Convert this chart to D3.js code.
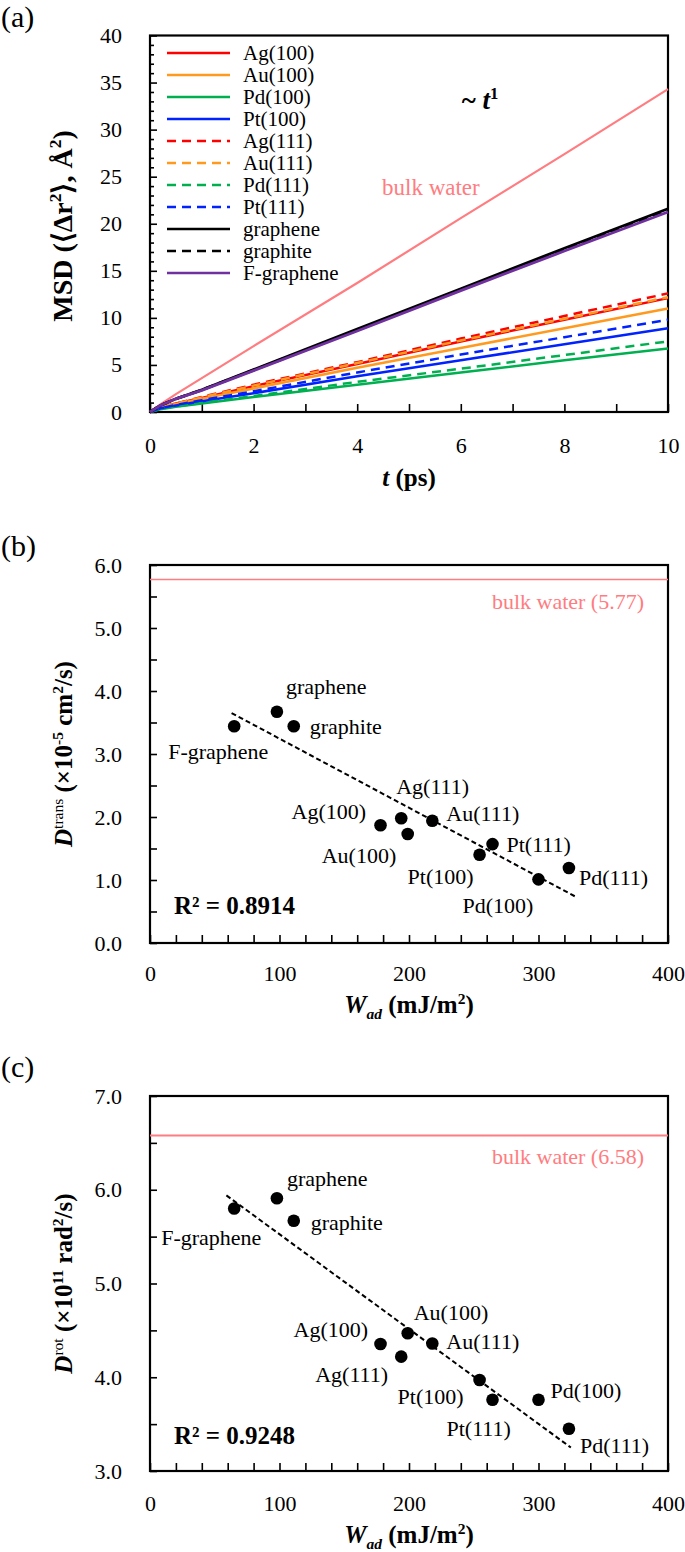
<!DOCTYPE html>
<html>
<head>
<meta charset="utf-8">
<script src="https://cdn.jsdelivr.net/npm/d3@7"></script>
<style>
body{margin:0;background:#fff;}
svg{display:block;}
text{font-family:"Liberation Serif","Times New Roman",serif;fill:#000;}
</style>
</head>
<body>
<div id="chart"></div>
<script>
var width = 685;
var height = 1552;

// (a) MSD vs t
var tPs = [0, 0.2, 0.5, 1, 2, 4, 6, 8, 10];
var msdBulk      = [0, 0.8, 1.9, 3.6, 7.0, 13.7, 20.6, 27.4, 34.3];
var msdAg100     = [0, 0.5, 0.9, 1.5, 2.75, 5.1, 7.5, 9.8, 12.1];
var msdAu100     = [0, 0.45, 0.85, 1.4, 2.5, 4.7, 6.8, 8.9, 11.0];
var msdPd100     = [0, 0.3, 0.55, 0.9, 1.6, 2.9, 4.2, 5.5, 6.75];
var msdPt100     = [0, 0.4, 0.7, 1.15, 2.0, 3.8, 5.5, 7.2, 8.9];
var msdAg111     = [0, 0.5, 0.9, 1.6, 2.9, 5.3, 7.8, 10.2, 12.6];
var msdAu111     = [0, 0.5, 0.9, 1.55, 2.8, 5.2, 7.6, 9.9, 12.2];
var msdPd111     = [0, 0.35, 0.6, 0.95, 1.7, 3.2, 4.6, 6.05, 7.5];
var msdPt111     = [0, 0.4, 0.75, 1.25, 2.2, 4.2, 6.1, 7.95, 9.8];
var msdGraphene  = [0, 0.7, 1.4, 2.35, 4.5, 8.8, 13.1, 17.4, 21.6];
var msdGraphite  = [0, 0.7, 1.4, 2.35, 4.45, 8.7, 13.0, 17.3, 21.5];
var msdFgraphene = [0, 0.7, 1.4, 2.3, 4.4, 8.6, 12.9, 17.1, 21.25];

var msdNames = ["Ag(100)", "Au(100)", "Pd(100)", "Pt(100)", "Ag(111)", "Au(111)",
                "Pd(111)", "Pt(111)", "graphene", "graphite", "F-graphene"];
var msdData = [msdAg100, msdAu100, msdPd100, msdPt100, msdAg111, msdAu111,
               msdPd111, msdPt111, msdGraphene, msdGraphite, msdFgraphene];
var msdColors = ["#ff0000", "#ff9a1f", "#00b050", "#0022ff", "#ff0000", "#ff9a1f",
                 "#00b050", "#0022ff", "#000000", "#000000", "#7030a0"];
var msdDashed = [false, false, false, false, true, true, true, true, false, true, false];

// (b),(c) diffusion coefficients vs adhesion work
var surfaces = ["F-graphene", "graphene", "graphite", "Ag(100)", "Ag(111)", "Au(100)",
                "Au(111)", "Pt(100)", "Pt(111)", "Pd(100)", "Pd(111)"];
var wad    = [65, 98, 111, 178, 194, 199, 218, 254.5, 264.5, 300, 323.5];
var dTrans = [3.44, 3.67, 3.44, 1.87, 1.98, 1.73, 1.94, 1.40, 1.57, 1.01, 1.19];
var dRot   = [5.80, 5.91, 5.67, 4.355, 4.22, 4.47, 4.36, 3.97, 3.76, 3.76, 3.45];
var bulkTrans = 5.77;
var bulkRot = 6.58;
var fitTransX = [63, 330], fitTransY = [3.65, 0.72];
var fitRotX = [59, 325], fitRotY = [5.94, 3.25];
var r2Trans = "0.8914", r2Rot = "0.9248";

// label offsets from their point (px): left edge, baseline
var labDxB = [-66, 9, 16, -89, -5, -86, 14, -72, 14, -76, 10];
var labDyB = [33, -18, 8, -6, -24, 29, 0, 29, 8, 34, 17];
var labDxC = [-73, 10, 17, -87, -86, 6, 14, -82, -46, 12, 11];
var labDyC = [36, -12, 9, -7, 25, -13, 5, 24, 36, -2, 24];

var pink = "#ff7c80";
var tickFont = 22;

var svg = d3.select("div#chart").append("svg")
	.attr("width", width)
	.attr("height", height);

// text with super/subscript pieces
function rich(t, parts, size){
	var shift = 0;
	parts.forEach(function(p){
		var target = p.sup ? -0.38*size : (p.sub ? 0.22*size : 0);
		var ts = t.append("tspan").text(p.t).attr("dy", target - shift);
		shift = target;
		if(p.sup || p.sub) ts.attr("font-size", 0.62*size);
		if(p.it) ts.attr("font-style", "italic");
		if(p.w) ts.attr("font-weight", p.w);
	});
	return t;
}

function isMajor(d, step){
	var q = d/step;
	return Math.abs(q - Math.round(q)) < 1e-6;
}

function frameAxes(x, y, xTicks, xStep, yTicks, yStep, yFmt, xPad, yMinor){
	var x0 = x.range()[0], x1 = x.range()[1];
	var yb = y.range()[0], yt = y.range()[1];
	var gx = svg.append("g")
		.attr("transform", "translate(0," + yb + ")")
		.call(d3.axisBottom(x).tickValues(xTicks).tickSize(-8).tickPadding(xPad)
			.tickFormat(function(d){ return isMajor(d, xStep) ? d : ""; }));
	var gy = svg.append("g")
		.attr("transform", "translate(" + x0 + ",0)")
		.call(d3.axisLeft(y).tickValues(yTicks).tickSize(-7).tickPadding(28)
			.tickFormat(function(d){ return isMajor(d, yStep) ? yFmt(d) : ""; }));
	if(yMinor){
		gy.selectAll(".tick line").attr("x2", function(d){ return isMajor(d, yStep) ? 7 : 4; });
	}
	[gx, gy].forEach(function(g){
		g.select(".domain").remove();
		g.attr("font-family", null).attr("font-size", null);
		g.selectAll(".tick line").attr("stroke", "#000").attr("stroke-width", 1.6);
		g.selectAll(".tick text").attr("font-size", tickFont).attr("fill", "#000");
	});
	svg.append("rect")
		.attr("x", x0).attr("y", yt)
		.attr("width", x1 - x0).attr("height", yb - yt)
		.attr("fill", "none").attr("stroke", "#000").attr("stroke-width", 2.2);
}

function panelLetter(s, y){
	svg.append("text").attr("x", 1).attr("y", y).attr("font-size", 30).text(s);
}

function yLabel(parts, cx, cy, size){
	var t = svg.append("text")
		.attr("transform", "translate(" + cx + "," + cy + ") rotate(-90)")
		.attr("text-anchor", "middle")
		.attr("font-size", size)
		.attr("font-weight", "bold");
	rich(t, parts, size);
}

function xLabel(parts, cx, y, size){
	var t = svg.append("text")
		.attr("x", cx).attr("y", y)
		.attr("text-anchor", "middle")
		.attr("font-size", size)
		.attr("font-weight", "bold");
	rich(t, parts, size);
}

// ---------------- (a) ----------------
var xA = d3.scaleLinear().domain([0, 10]).range([150, 668]);
var yA = d3.scaleLinear().domain([0, 40]).range([412, 35.5]);

panelLetter("(a)", 27);
frameAxes(xA, yA, d3.range(0, 11, 1), 2, d3.range(0, 41, 1), 5, d3.format("d"), 25, true);

var lineA = d3.line()
	.x(function(d, i){ return xA(tPs[i]); })
	.y(function(d){ return yA(d); });

svg.append("path")
	.attr("d", lineA(msdBulk))
	.attr("fill", "none")
	.attr("stroke", pink)
	.attr("stroke-width", 2.2);

svg.selectAll("path.msd")
	.data(msdData)
	.enter()
	.append("path")
	.attr("class", "msd")
	.attr("d", function(d){ return lineA(d); })
	.attr("fill", "none")
	.attr("stroke", function(d, i){ return msdColors[i]; })
	.attr("stroke-width", function(d, i){ return i >= 8 ? 2.8 : 2.5; })
	.attr("stroke-dasharray", function(d, i){ return msdDashed[i] ? "9,6" : null; });

var legend = svg.selectAll("g.leg")
	.data(msdNames)
	.enter()
	.append("g")
	.attr("class", "leg")
	.attr("transform", function(d, i){ return "translate(167," + (53 + i*22) + ")"; });
legend.append("line")
	.attr("x1", 0).attr("x2", 63).attr("y1", 0).attr("y2", 0)
	.attr("stroke", function(d, i){ return msdColors[i]; })
	.attr("stroke-width", 2.5)
	.attr("stroke-dasharray", function(d, i){ return msdDashed[i] ? "9,6" : null; });
legend.append("text")
	.attr("x", 76).attr("y", 7)
	.attr("font-size", 21)
	.text(function(d){ return d; });

rich(svg.append("text").attr("x", 480).attr("y", 109).attr("text-anchor", "middle")
	.attr("font-size", 27).attr("font-weight", "bold"),
	[{t: "~ "}, {t: "t", it: 1}, {t: "1", sup: 1}], 27);

svg.append("text").attr("x", 382).attr("y", 195)
	.attr("font-size", 23).style("fill", pink)
	.text("bulk water");

yLabel([{t: "MSD (\u27e8\u0394r"}, {t: "2", sup: 1}, {t: "\u27e9, \u00c5"}, {t: "2", sup: 1}, {t: ")"}],
	72, 226, 28);
xLabel([{t: "t", it: 1}, {t: " (ps)"}], 409, 486, 25);

// ---------------- (b) and (c) ----------------
function scatterPanel(letter, letterY, yDomain, yRange, yTicks, values, bulk, bulkW, bulkLabel, bulkLabelY,
                      fitX, fitY, r2, r2Y, dx, dy, ylab, xlabY, xPad){
	var x = d3.scaleLinear().domain([0, 400]).range([150, 668]);
	var y = d3.scaleLinear().domain(yDomain).range(yRange);
	panelLetter(letter, letterY);
	frameAxes(x, y, d3.range(0, 401, 20), 100, yTicks, 1, d3.format(".1f"), xPad, false);

	svg.append("line")
		.attr("x1", x(0)).attr("x2", x(400))
		.attr("y1", y(bulk)).attr("y2", y(bulk))
		.attr("stroke", pink).attr("stroke-width", bulkW);
	svg.append("text").attr("x", 644).attr("y", bulkLabelY)
		.attr("text-anchor", "end").attr("font-size", 22)
		.style("fill", pink).text(bulkLabel);

	svg.append("line")
		.attr("x1", x(fitX[0])).attr("x2", x(fitX[1]))
		.attr("y1", y(fitY[0])).attr("y2", y(fitY[1]))
		.attr("stroke", "#000").attr("stroke-width", 2)
		.attr("stroke-dasharray", "5,3");

	var g = svg.append("g");
	g.selectAll("circle")
		.data(values)
		.enter()
		.append("circle")
		.attr("cx", function(d, i){ return x(wad[i]); })
		.attr("cy", function(d){ return y(d); })
		.attr("r", 6.3)
		.attr("fill", "#000");
	g.selectAll("text")
		.data(values)
		.enter()
		.append("text")
		.attr("x", function(d, i){ return x(wad[i]) + dx[i]; })
		.attr("y", function(d, i){ return y(d) + dy[i]; })
		.attr("font-size", 22)
		.text(function(d, i){ return surfaces[i]; });

	svg.append("text").attr("x", 174).attr("y", r2Y)
		.attr("font-size", 25).attr("font-weight", "bold")
		.text("R\u00b2 = " + r2);

	yLabel(ylab, 72, (yRange[0] + yRange[1])/2, 25);
	xLabel([{t: "W", it: 1}, {t: "ad", it: 1, sub: 1}, {t: " (mJ/m"}, {t: "2", sup: 1}, {t: ")"}], 409, xlabY, 25);
}

scatterPanel("(b)", 556, [0, 6], [943, 565], d3.range(0, 6.01, 0.5), dTrans,
	bulkTrans, 1.5, "bulk water (5.77)", 609, fitTransX, fitTransY, r2Trans, 914,
	labDxB, labDyB,
	[{t: "D", it: 1}, {t: "trans", sup: 1, w: "normal"}, {t: " (\u00d710"}, {t: "-5", sup: 1}, {t: " cm"}, {t: "2", sup: 1}, {t: "/s)"}],
	1013, 22);

scatterPanel("(c)", 1077, [3, 7], [1471, 1096], d3.range(3, 7.01, 0.5), dRot,
	bulkRot, 2, "bulk water (6.58)", 1164, fitRotX, fitRotY, r2Rot, 1444,
	labDxC, labDyC,
	[{t: "D", it: 1}, {t: "rot", sup: 1, w: "normal"}, {t: " (\u00d710"}, {t: "11", sup: 1}, {t: " rad"}, {t: "2", sup: 1}, {t: "/s)"}],
	1543, 24);
</script>
</body>
</html>
